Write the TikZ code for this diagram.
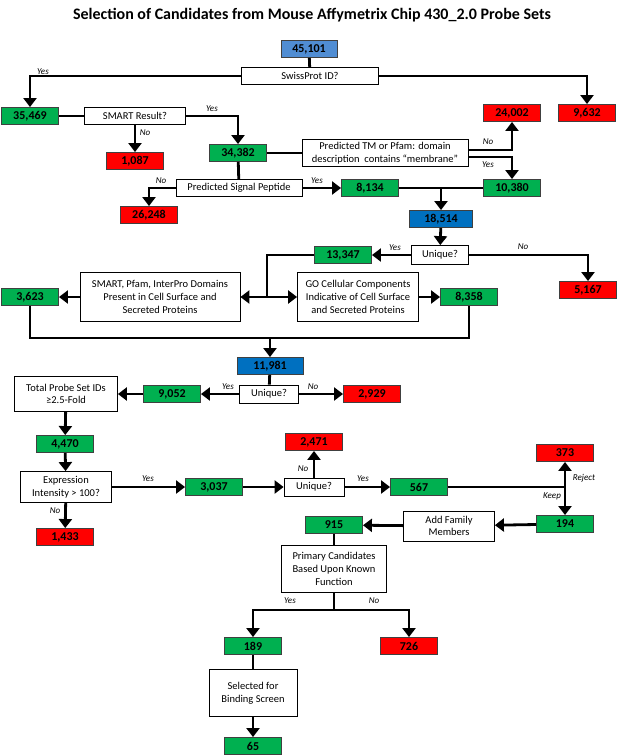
\documentclass[tikz,border=0pt]{standalone}
\usepackage{fontspec}
\setmainfont{Carlito}
\usetikzlibrary{arrows.meta}

\definecolor{boxgreen}{RGB}{0,176,80}
\definecolor{boxred}{RGB}{255,0,0}
\definecolor{boxblue}{RGB}{0,112,192}
\definecolor{paleblue}{RGB}{80,141,211}

\tikzset{
    num/.style={draw=black!75, line width=0.9pt, minimum width=57pt, minimum height=17pt,
        inner sep=0pt, font=\bfseries\fontsize{12}{12}\selectfont},
    good/.style={num, fill=boxgreen},
    bad/.style={num, fill=boxred},
    pool/.style={num, fill=boxblue},
    qbox/.style={draw=black, line width=0.8pt, fill=white, inner sep=1pt, align=center,
        font=\fontsize{10.5}{12.7}\selectfont},
    lbl/.style={font=\itshape\fontsize{9}{10}\selectfont},
    conn/.style={line width=2.8pt},
    arr/.style={conn, -{Triangle[width=13pt,length=9pt]}}
}

\begin{document}
\begin{tikzpicture}[x=1pt, y=-1pt]
    \useasboundingbox (0,0) rectangle (617,755);

    % Title
    \node[font=\bfseries\fontsize{16}{18}\selectfont] (title) at (312,15)
        {Selection of Candidates from Mouse Affymetrix Chip 430\_2.0 Probe Sets};

    % Counts of probe sets
    \node[num, fill=paleblue, minimum width=56pt] (n45101) at (309,49) {45,101};
    \node[good] (n35469) at (30,116) {35,469};
    \node[bad] (n24002) at (512,113) {24,002};
    \node[bad] (n9632) at (587,113) {9,632};
    \node[bad] (n1087) at (135,161) {1,087};
    \node[good] (n34382) at (238,153) {34,382};
    \node[bad] (n26248) at (149,215) {26,248};
    \node[good] (n8134) at (370,188) {8,134};
    \node[good] (n10380) at (512,188) {10,380};
    \node[pool, minimum width=63pt] (n18514) at (441,219) {18,514};
    \node[good] (n13347) at (343,255) {13,347};
    \node[bad] (n5167) at (588,290) {5,167};
    \node[good] (n3623) at (30,297) {3,623};
    \node[good] (n8358) at (469,297) {8,358};
    \node[pool, minimum width=66pt] (n11981) at (270,366) {11,981};
    \node[good] (n9052) at (172,394) {9,052};
    \node[bad] (n2929) at (372,394) {2,929};
    \node[good] (n4470) at (65,444) {4,470};
    \node[good] (n3037) at (214,487) {3,037};
    \node[bad] (n1433) at (65,537) {1,433};
    \node[bad] (n2471) at (314,442) {2,471};
    \node[good] (n567) at (419,487) {567};
    \node[bad] (n373) at (565,453) {373};
    \node[good] (n194) at (565,524) {194};
    \node[good] (n915) at (334,525) {915};
    \node[good] (n189) at (253,646) {189};
    \node[bad] (n726) at (409,646) {726};
    \node[good] (n65) at (253,746) {65};

    % Filter steps
    \node[qbox, minimum width=137pt, minimum height=17pt] (swiss) at (310,76) {SwissProt ID?};
    \node[qbox, minimum width=101pt, minimum height=17pt] (smart) at (135,116) {SMART Result?};
    \node[qbox, minimum width=166pt, minimum height=27pt] (tm) at (385,153)
        {Predicted TM or Pfam: domain\\description\ \ contains \textquotedblleft membrane\textquotedblright};
    \node[qbox, minimum width=126pt, minimum height=17pt] (sig) at (239,188) {Predicted Signal Peptide};
    \node[qbox, minimum width=57pt, minimum height=19pt] (uniq1) at (440,255) {Unique?};
    \node[qbox, minimum width=160pt, minimum height=49pt] (dom) at (160,297)
        {SMART, Pfam, InterPro Domains\\Present in Cell Surface and\\Secreted Proteins};
    \node[qbox, minimum width=121pt, minimum height=49pt] (go) at (358,297)
        {GO Cellular Components\\Indicative of Cell Surface\\and Secreted Proteins};
    \node[qbox, minimum width=59pt, minimum height=18pt] (uniq2) at (269,394) {Unique?};
    \node[qbox, minimum width=103pt, minimum height=35pt] (total) at (66,394)
        {Total Probe Set IDs\\\char"2265 2.5-Fold};
    \node[qbox, minimum width=91pt, minimum height=31pt] (expr) at (66,487)
        {Expression\\Intensity > 100?};
    \node[qbox, minimum width=60pt, minimum height=18pt] (uniq3) at (314,487) {Unique?};
    \node[qbox, minimum width=91pt, minimum height=30pt] (add) at (449,526) {Add Family\\Members};
    \node[qbox, minimum width=105pt, minimum height=47pt] (prim) at (334,569)
        {Primary Candidates\\Based Upon Known\\Function};
    \node[qbox, minimum width=88pt, minimum height=47pt] (sel) at (253,693)
        {Selected for\\Binding Screen};

    % Junction points
    \coordinate (split) at (267,297);
    \coordinate (merge) at (270,338);
    \coordinate (fork) at (565,487);
    \coordinate (branch) at (334,610);

    % Connectors
    \draw[conn] (n45101) -- (swiss);
    \draw[arr] (swiss.west) -| (n35469.north);
    \draw[arr] (swiss.east) -| (n9632.north);
    \draw[conn] (n35469) -- (smart);
    \draw[arr] (smart.east) -| (n34382.north);
    \draw[arr] (smart) -- (n1087);
    \draw[conn] (n34382) -- (tm);
    \draw[arr] ([yshift=3pt]tm.east) -| (n24002.south);
    \draw[arr] ([yshift=-4pt]tm.east) -| (n10380.north);
    \draw[conn] (n34382) -- (sig);
    \draw[arr] (sig.west) -| (n26248.north);
    \draw[arr] (sig) -- (n8134);
    \draw[conn] (n8134) -- (n10380);
    \draw[arr] (n18514.north |- n8134.east) -- (n18514.north);
    \draw[arr] (n18514) -- (uniq1);
    \draw[arr] (uniq1) -- (n13347);
    \draw[arr] (uniq1.east) -| (n5167.north);
    \draw[conn] (n13347.west) -| (split);
    \draw[arr] (split) -- (dom.east);
    \draw[arr] (split) -- (go.west);
    \draw[arr] (dom) -- (n3623);
    \draw[arr] (go) -- (n8358);
    \draw[conn] (n3623.south) |- (merge) -| (n8358.south);
    \draw[arr] (merge) -- (n11981.north);
    \draw[conn] (n11981) -- (uniq2);
    \draw[arr] (uniq2) -- (n9052);
    \draw[arr] (uniq2) -- (n2929);
    \draw[arr] (n9052) -- (total);
    \draw[arr] (total) -- (n4470);
    \draw[arr] (n4470) -- (expr);
    \draw[arr] (expr) -- (n3037);
    \draw[arr] (expr) -- (n1433);
    \draw[arr] (n3037) -- (uniq3);
    \draw[arr] (uniq3) -- (n2471);
    \draw[arr] (uniq3) -- (n567);
    \draw[conn] (n567.east) -- (fork);
    \draw[arr] (fork) -- (n373.south);
    \draw[arr] (fork) -- (n194.north);
    \draw[arr] (n194) -- (add);
    \draw[arr] (add) -- (n915);
    \draw[conn] (n915) -- (prim);
    \draw[conn] (prim.south) -- (branch);
    \draw[arr] (branch) -| (n189.north);
    \draw[arr] (branch) -| (n726.north);
    \draw[conn] (n189) -- (sel);
    \draw[arr] (sel) -- (n65);

    % Decision labels
    \node[lbl] (y1) at (43,72) {Yes};
    \node[lbl] (y2) at (212,109) {Yes};
    \node[lbl] (no1) at (145,133) {No};
    \node[lbl] (no2) at (488,142) {No};
    \node[lbl] (y3) at (488,165) {Yes};
    \node[lbl] (no3) at (161,181) {No};
    \node[lbl] (y4) at (317,181) {Yes};
    \node[lbl] (y5) at (395,248) {Yes};
    \node[lbl] (no4) at (523,247) {No};
    \node[lbl] (y6) at (228,387) {Yes};
    \node[lbl] (no5) at (313,387) {No};
    \node[lbl] (y7) at (148,479) {Yes};
    \node[lbl] (no6) at (55,511) {No};
    \node[lbl] (no7) at (303,469) {No};
    \node[lbl] (y8) at (363,479) {Yes};
    \node[lbl] (rej) at (584,478) {Reject};
    \node[lbl] (keep) at (552,496) {Keep};
    \node[lbl] (y9) at (290,601) {Yes};
    \node[lbl] (no8) at (374,601) {No};
\end{tikzpicture}
\end{document}
